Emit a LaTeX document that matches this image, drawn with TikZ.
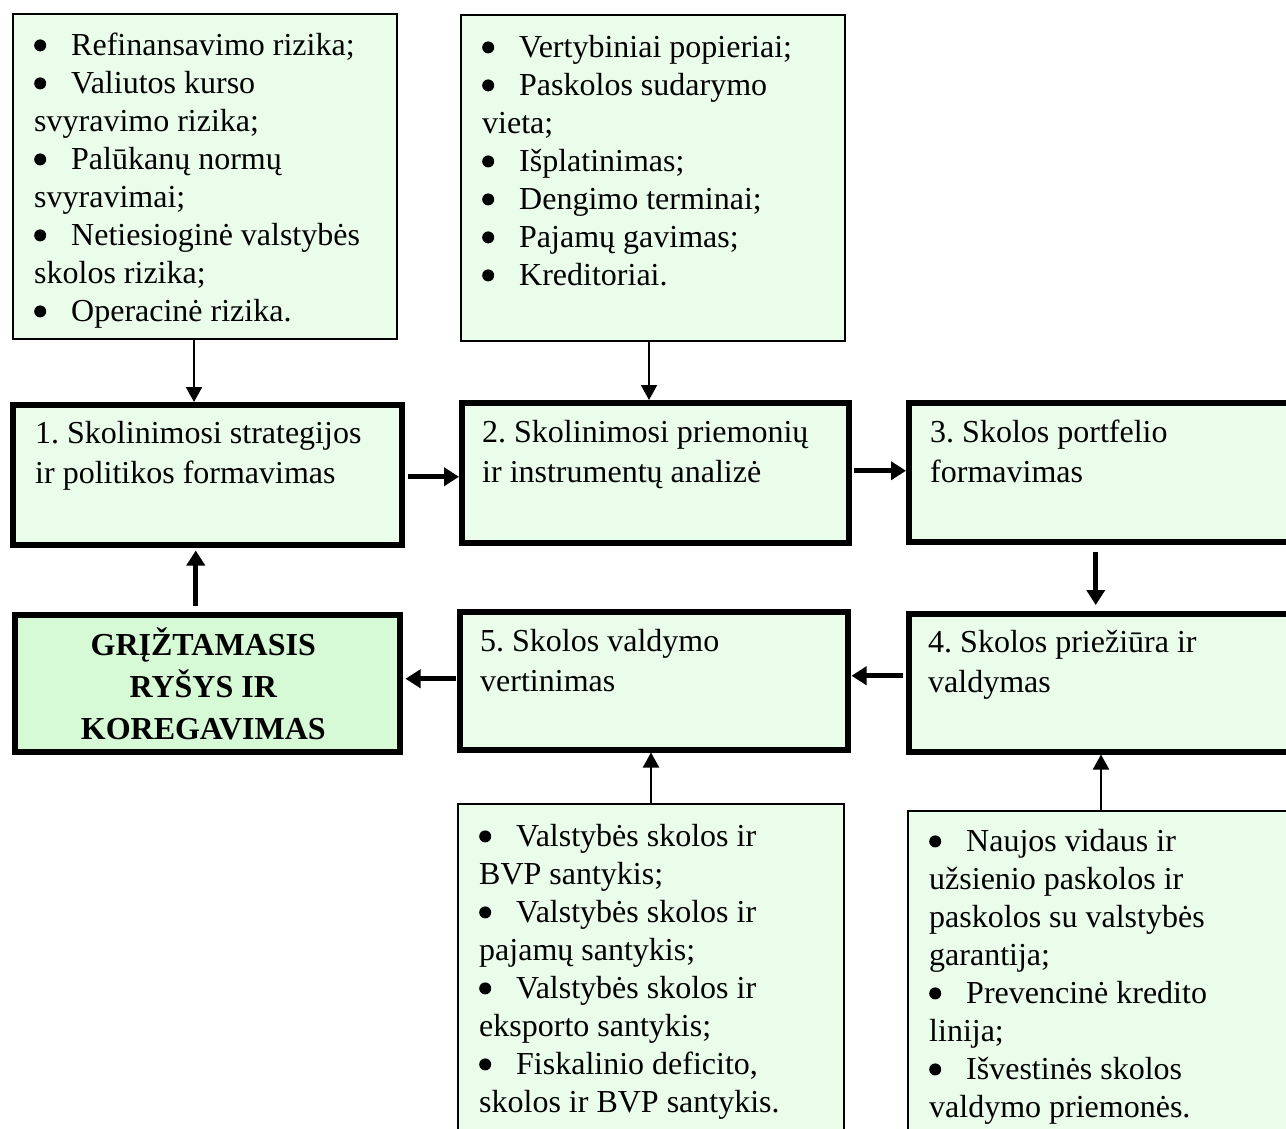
\documentclass[tikz,border=0pt]{standalone}
\usepackage{fontspec}
\setmainfont{Liberation Serif}
\usetikzlibrary{arrows.meta}
\definecolor{paleg}{RGB}{234,252,234}
\definecolor{feedg}{RGB}{214,249,214}
\tikzset{
  thinbox/.style={draw=black, line width=2pt, fill=paleg, rectangle, inner sep=0pt, anchor=north west},
  thickbox/.style={draw=black, line width=5.5pt, fill=paleg, rectangle, inner sep=0pt, anchor=north west},
  % text blocks hang from their top; every block opens with a strut so the
  % first baseline sits 0.7 baselineskip below the anchor
  boxtext/.style={anchor=north west, inner sep=0pt, align=left, font=\fontsize{32}{38}\selectfont\frenchspacing},
  steptext/.style={anchor=north west, inner sep=0pt, align=left, font=\fontsize{32}{39.5}\selectfont\frenchspacing},
  thinarrow/.style={line width=2pt, -{Triangle[length=15pt,width=16pt]}},
  thickarrow/.style={line width=5pt, -{Triangle[length=15pt,width=18pt]}},
}
% round list bullet followed by the hanging tab
\newcommand\bul{\makebox[37pt][l]{\tikz[baseline=0pt]\fill[black] (6pt,10.4pt) circle (6pt);}}
\begin{document}
\begin{tikzpicture}[x=1pt,y=-1pt]
\useasboundingbox (0,0) rectangle (1286,1128);
\fill[white] (0,0) rectangle (1286,1128);
\clip (0,0) rectangle (1286,1128);

% input boxes
\node[thinbox, minimum width=384pt, minimum height=325pt] (A) at (12,13) {};
\node[thinbox, minimum width=384pt, minimum height=326pt] (B) at (460,14) {};
\node[thinbox, minimum width=386pt, minimum height=340pt] (C) at (457,803) {};
\node[thinbox, minimum width=390pt, minimum height=340pt] (D) at (907,810) {};

% process steps
\node[thickbox, minimum width=389pt, minimum height=140pt] (n1) at (10,402) {};
\node[thickbox, minimum width=387pt, minimum height=140pt] (n2) at (459,400) {};
\node[thickbox, minimum width=390pt, minimum height=139pt] (n3) at (906,400) {};
\node[thickbox, minimum width=390pt, minimum height=138pt] (n4) at (906,611) {};
\node[thickbox, minimum width=388pt, minimum height=138pt] (n5) at (457,609) {};
\node[thickbox, fill=feedg, minimum width=385pt, minimum height=137pt] (G) at (12,612) {};

% texts
\node[boxtext] (tA) at ([shift={(22pt,-16pt)}]A.north west) {%
\strut\bul Refinansavimo rizika;\\
\bul Valiutos kurso\\
svyravimo rizika;\\
\bul Palūkanų normų\\
svyravimai;\\
\bul Netiesioginė valstybės\\
skolos rizika;\\
\bul Operacinė rizika.};

\node[boxtext] (tB) at ([shift={(22pt,-17pt)}]B.north west) {%
\strut\bul Vertybiniai popieriai;\\
\bul Paskolos sudarymo\\
vieta;\\
\bul Išplatinimas;\\
\bul Dengimo terminai;\\
\bul Pajamų gavimas;\\
\bul Kreditoriai.};

\node[boxtext] (tC) at ([shift={(22pt,-17pt)}]C.north west) {%
\strut\bul Valstybės skolos ir\\
BVP santykis;\\
\bul Valstybės skolos ir\\
pajamų santykis;\\
\bul Valstybės skolos ir\\
eksporto santykis;\\
\bul Fiskalinio deficito,\\
skolos ir BVP santykis.};

\node[boxtext] (tD) at ([shift={(22pt,-15pt)}]D.north west) {%
\strut\bul Naujos vidaus ir\\
užsienio paskolos ir\\
paskolos su valstybės\\
garantija;\\
\bul Prevencinė kredito\\
linija;\\
\bul Išvestinės skolos\\
valdymo priemonės.};

\node[steptext] (t1) at ([shift={(25pt,-14pt)}]n1.north west) {\strut 1. Skolinimosi strategijos\\ir politikos formavimas};
\node[steptext] (t2) at ([shift={(23pt,-15pt)}]n2.north west) {\strut 2. Skolinimosi priemonių\\ir instrumentų analizė};
\node[steptext] (t3) at ([shift={(24pt,-15pt)}]n3.north west) {\strut 3. Skolos portfelio\\formavimas};
\node[steptext] (t4) at ([shift={(22pt,-14pt)}]n4.north west) {\strut 4. Skolos priežiūra ir\\valdymas};
\node[steptext] (t5) at ([shift={(23pt,-15pt)}]n5.north west) {\strut 5. Skolos valdymo\\vertinimas};
\node[anchor=north, inner sep=0pt, align=center, font=\bfseries\fontsize{32}{42}\selectfont] (tG)
  at ([shift={(-4pt,-14pt)}]G.north) {\strut GRĮŽTAMASIS\\RYŠYS IR\\KOREGAVIMAS};

% connectors
\draw[thinarrow] ([xshift=-11pt]A.south) -- ([xshift=-11pt]A.south |- n1.north);
\draw[thinarrow] ([xshift=-4pt]B.south) -- ([xshift=-4pt]B.south |- n2.north);
\draw[thickarrow, shorten <=3pt] ([yshift=-2pt]n1.east) -- ([yshift=-2pt]n1.east -| n2.west);
\draw[thickarrow, shorten <=2pt] ([yshift=2pt]n2.east) -- ([yshift=2pt]n2.east -| n3.west);
\draw[thickarrow, shorten <=7pt, shorten >=6pt] ([xshift=-8pt]n3.south) -- ([xshift=-8pt]n3.south |- n4.north);
\draw[thickarrow, shorten <=3pt, shorten >=1pt] ([yshift=7pt]n4.west) -- ([yshift=7pt]n4.west -| n5.east);
\draw[thickarrow, shorten <=1pt, shorten >=3pt] ([yshift=2pt]n5.west) -- ([yshift=2pt]n5.west -| G.east);
\draw[thickarrow, shorten <=6pt, shorten >=3pt] ([xshift=-11.5pt]G.north) -- ([xshift=-11.5pt]G.north |- n1.south);
\draw[thinarrow] (C.north) -- (C.north |- n5.south);
\draw[thinarrow] ([xshift=-2pt]D.north) -- ([xshift=-2pt]D.north |- n4.south);
\end{tikzpicture}
\end{document}
